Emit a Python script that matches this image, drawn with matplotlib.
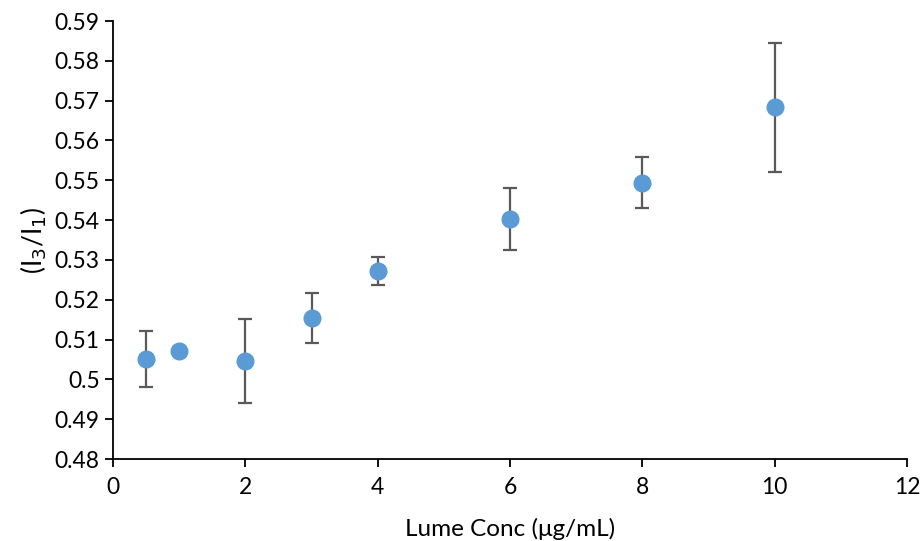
import matplotlib
matplotlib.use("Agg")
import matplotlib.pyplot as plt
from matplotlib.ticker import FuncFormatter

# data
conc = [0.5, 1, 2, 3, 4, 6, 8, 10]
ratio = [0.5051, 0.5071, 0.5046, 0.5154, 0.5273, 0.5403, 0.5494, 0.5684]
err = [0.0070, 0.0, 0.0105, 0.0063, 0.0035, 0.0078, 0.0064, 0.0162]

plt.rcParams['font.family'] = ['Lato', 'DejaVu Sans']

fig = plt.figure(figsize=(9.21, 5.41), dpi=100)
ax = fig.add_axes([113/921, 82/541, (907-113)/921, (459-21)/541])

ax.errorbar(conc, ratio, yerr=err, fmt='o', color='#5B9BD5', markersize=12,
            ecolor='#595959', elinewidth=1.6, capsize=5, capthick=1.6, zorder=3)

ax.set_xlim(0, 12)
ax.set_ylim(0.48, 0.59)
ax.set_xticks(range(0, 13, 2))
ax.set_yticks([0.48 + 0.01*i for i in range(12)])
ax.yaxis.set_major_formatter(FuncFormatter(lambda v, p: '%g' % round(v, 2)))

for s in ['top', 'right']:
    ax.spines[s].set_visible(False)
for s in ['left', 'bottom']:
    ax.spines[s].set_linewidth(1.3)
    ax.spines[s].set_color('black')
ax.tick_params(direction='out', length=6, width=1.3, labelsize=16.5, colors='black')
ax.tick_params(axis='x', pad=7)

ax.set_xlabel('Lume Conc (μg/mL)', fontsize=17.5, labelpad=14)
ax.set_ylabel(r'(I$_3$/I$_1$)', fontsize=19, labelpad=4)

fig.savefig('out.png', dpi=100)
